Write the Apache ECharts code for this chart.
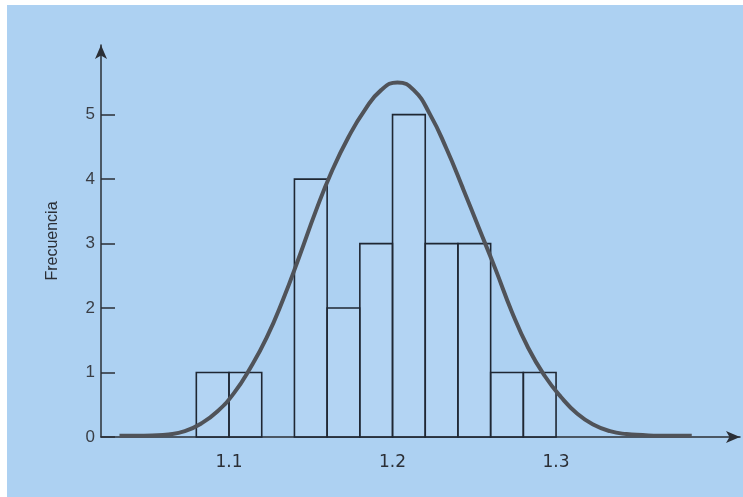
<!DOCTYPE html>
<html lang="es">
<head>
<meta charset="UTF-8">
<title>Frecuencia</title>
<script src="https://cdn.jsdelivr.net/npm/echarts@6/dist/echarts.min.js"></script>
<style>
  html, body { margin: 0; padding: 0; background: #ffffff; }
  #main { width: 743px; height: 497px; }
</style>
</head>
<body>
<div id="main"></div>
<script type="text/javascript">
// histogram bins (width 0.02)
var binStart = [1.08, 1.10, 1.14, 1.16, 1.18, 1.20, 1.22, 1.24, 1.26, 1.28];
var binEnd   = [1.10, 1.12, 1.16, 1.18, 1.20, 1.22, 1.24, 1.26, 1.28, 1.30];
var counts   = [1, 1, 4, 2, 3, 5, 3, 3, 1, 1];

// fitted curve
var curveX = [1.033, 1.043, 1.053, 1.063, 1.073, 1.083, 1.093, 1.103, 1.113, 1.123, 1.133, 1.143, 1.153, 1.163,
              1.173, 1.183, 1.193, 1.203, 1.213, 1.223, 1.233, 1.243, 1.253, 1.263, 1.273, 1.283, 1.293, 1.303,
              1.313, 1.323, 1.333, 1.343, 1.353, 1.363, 1.383];
var curveY = [0.02, 0.02, 0.025, 0.04, 0.09, 0.21, 0.4, 0.68, 1.07, 1.54, 2.13, 2.8, 3.5, 4.13,
              4.65, 5.07, 5.38, 5.5, 5.38, 5.0, 4.47, 3.86, 3.23, 2.6, 1.94, 1.38, 0.95, 0.62,
              0.36, 0.19, 0.09, 0.045, 0.03, 0.02, 0.02];

var xTicks = [1.1, 1.2, 1.3];
var yTicks = [0, 1, 2, 3, 4, 5];

var bins = binStart.map(function (s, i) { return [s, binEnd[i], counts[i]]; });
var curve = curveX.map(function (x, i) { return [x, curveY[i]]; });

var myChart = echarts.init(document.getElementById('main'));
var option = {
    backgroundColor: '#ffffff',
    animation: false,
    graphic: {
        elements: [{
            type: 'rect', z: -100, silent: true,
            shape: { x: 7, y: 5, width: 736, height: 492 },
            style: { fill: '#add1f2' }
        }]
    },
    grid: { left: 101, right: 3, top: 45, bottom: 60 },
    xAxis: {
        type: 'value',
        min: 1.0217,
        max: 1.4125,
        splitLine: { show: false },
        axisTick: { show: false },
        axisLine: {
            lineStyle: { color: '#2b2f36', width: 1.5 },
            symbol: ['none', 'arrow'],
            symbolSize: [9, 14]
        },
        axisLabel: {
            customValues: xTicks,
            formatter: function (v) { return v.toFixed(1); },
            margin: 17,
            color: '#2b2f36',
            fontSize: 17,
            fontFamily: 'DejaVu Sans'
        }
    },
    yAxis: {
        type: 'value',
        min: 0,
        max: 6.08,
        name: 'Frecuencia',
        nameLocation: 'middle',
        nameGap: 40,
        nameTextStyle: { color: '#2b2f36', fontSize: 16, fontFamily: 'Liberation Sans' },
        splitLine: { show: false },
        axisLine: {
            show: true,
            lineStyle: { color: '#2b2f36', width: 1.5 },
            symbol: ['none', 'arrow'],
            symbolSize: [9, 14]
        },
        axisTick: {
            inside: true,
            length: 14,
            customValues: yTicks,
            lineStyle: { color: '#2b2f36', width: 1.5 }
        },
        axisLabel: {
            customValues: yTicks,
            margin: 6,
            color: '#3a3e45',
            fontSize: 17,
            fontFamily: 'Liberation Sans'
        }
    },
    series: [
        {
            type: 'custom',
            data: bins,
            encode: { x: [0, 1], y: 2 },
            z: 2,
            renderItem: function (params, api) {
                var p0 = api.coord([api.value(0), api.value(2)]);
                var p1 = api.coord([api.value(1), 0]);
                return {
                    type: 'rect',
                    shape: { x: p0[0], y: p0[1], width: p1[0] - p0[0], height: p1[1] - p0[1] },
                    style: { fill: 'rgba(200,225,248,0.25)', stroke: '#1f2733', lineWidth: 1.6 }
                };
            }
        },
        {
            type: 'line',
            data: curve,
            z: 5,
            smooth: 0.5,
            symbol: 'none',
            lineStyle: { color: '#505359', width: 4 }
        }
    ]
};
myChart.setOption(option);
</script>
</body>
</html>
